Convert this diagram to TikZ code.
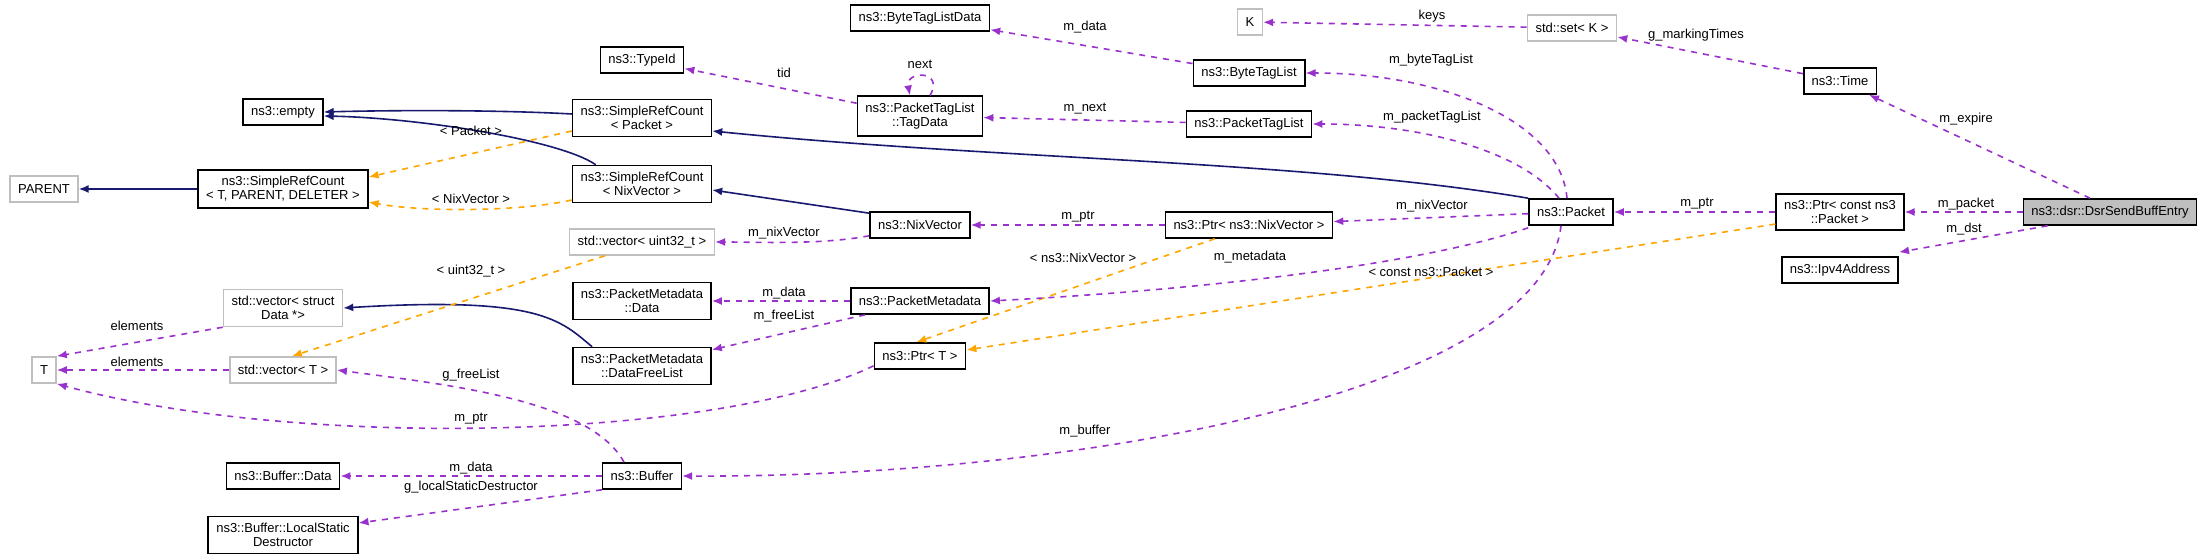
\documentclass[tikz,border=0pt]{standalone}
\usepackage{fontspec}
\setmainfont{Liberation Sans}
\usetikzlibrary{arrows.meta,calc}
\definecolor{navy}{RGB}{25,25,112}
\definecolor{usecol}{RGB}{153,50,204}
\definecolor{tplcol}{RGB}{255,165,0}
\tikzset{
    % Boxes
    cls/.style={draw=black,thick,fill=white,inner xsep=4pt,minimum height=13pt,align=center,font=\fontsize{6.5}{7}\selectfont},
    ext/.style={cls,draw=black!25},
    self/.style={cls,fill=black!25},
    %
    % Connectors
    tip/.tip={Latex[length=5pt,width=4pt]},
    inh/.style={-{tip},navy,thick},
    use/.style={-{tip},usecol,thick,dashed},
    tpl/.style={-{tip},tplcol,thick,dashed},
    lbl/.style={font=\fontsize{6.5}{7}\selectfont,inner sep=1pt}
}

\begin{document}
\begin{tikzpicture}[x=0.5pt,y=-0.5pt]
    \useasboundingbox (0,0) rectangle (2208,560);

    % column 1 and 2
    \node[ext] (parent) at (44,189) {PARENT};
    \node[ext] (tT) at (44,370) {T};
    \node[cls] (empty) at (283,112) {ns3::empty};
    \node[cls] (srcbase) at (283,189) {ns3::SimpleRefCount\\{}< T, PARENT, DELETER >};
    \node[ext] (vecstruct) at (283,308) {std::vector< struct\\Data *>};
    \node[ext] (vecT) at (283,370) {std::vector< T >};
    \node[cls] (bufdata) at (283,476) {ns3::Buffer::Data};
    \node[cls] (localstatic) at (283,535) {ns3::Buffer::LocalStatic\\Destructor};

    % column 3
    \node[cls] (typeid) at (642,60) {ns3::TypeId};
    \node[cls] (srcpacket) at (642,118) {ns3::SimpleRefCount\\{}< Packet >};
    \node[cls] (srcnix) at (642,184) {ns3::SimpleRefCount\\{}< NixVector >};
    \node[ext] (vecuint) at (642,242) {std::vector< uint32\_t >};
    \node[cls] (pmdata) at (642,301) {ns3::PacketMetadata\\::Data};
    \node[cls] (freelist) at (642,366) {ns3::PacketMetadata\\::DataFreeList};
    \node[cls] (buffer) at (642,476) {ns3::Buffer};

    % column 4
    \node[cls] (bytetaglistdata) at (920,18) {ns3::ByteTagListData};
    \node[cls] (tagdata) at (920,116) {ns3::PacketTagList\\::TagData};
    \node[cls] (nixvector) at (920,225) {ns3::NixVector};
    \node[cls] (pmeta) at (920,301) {ns3::PacketMetadata};
    \node[cls] (ptrT) at (920,356) {ns3::Ptr< T >};

    % column 5 to 8
    \node[ext] (kK) at (1250,22) {K};
    \node[cls] (bytetaglist) at (1249,73) {ns3::ByteTagList};
    \node[cls] (packettaglist) at (1249,124) {ns3::PacketTagList};
    \node[cls] (ptrnix) at (1249,225) {ns3::Ptr< ns3::NixVector >};
    \node[ext] (setK) at (1572,28) {std::set< K >};
    \node[cls] (packet) at (1571,212) {ns3::Packet};
    \node[cls] (time) at (1840,81) {ns3::Time};
    \node[cls] (ptrpacket) at (1840,212) {ns3::Ptr< const ns3\\::Packet >};
    \node[cls] (ipv4) at (1840,270) {ns3::Ipv4Address};
    \node[self] (entry) at (2110,212) {ns3::dsr::DsrSendBuffEntry};

    % inheritance
    \draw[inh] (srcpacket.west) ++(0,-4) .. controls (500,110) and (400,110) .. (empty.east);
    \draw[inh] ($(srcnix.north west)+(24,0)$) .. controls (560,140) and (420,118) .. ($(empty.east)+(0,4)$);
    \draw[inh] (packet.north west) .. controls (1300,160) and (1000,160) .. ($(srcpacket.east)+(0,13)$);
    \draw[inh] ($(nixvector.north west)+(0,2)$) -- ($(srcnix.east)+(0,6)$);
    \draw[inh] (srcbase) -- (parent);
    \draw[inh] ($(freelist.north west)+(20,0)$) .. controls (560,320) and (540,296) .. (vecstruct.east);

    % template instances
    \draw[tpl] ($(srcpacket.west)+(0,13)$) -- ($(srcbase.east)+(0,-12)$);
    \draw[tpl] ($(srcnix.west)+(0,16)$) .. controls (520,212) and (420,212) .. ($(srcbase.east)+(0,13)$);
    \draw[tpl] ($(vecuint.south west)+(36,0)$) -- ($(vecT.north east)+(-45,0)$);
    \draw[tpl] ($(ptrnix.south west)+(50,0)$) -- ($(ptrT.north east)+(-50,0)$);
    \draw[tpl] ($(ptrpacket.south west)+(0,-7)$) -- ($(ptrT.east)+(0,-6)$);
    \node[lbl] at (471,131) {< Packet >};
    \node[lbl] at (471,199) {< NixVector >};
    \node[lbl] at (471,271) {< uint32\_t >};
    \node[lbl] at (1083,258) {< ns3::NixVector >};
    \node[lbl] at (1431,272) {< const ns3::Packet >};

    % members
    \draw[use] (bytetaglist) -- (bytetaglistdata);
    \node[lbl] at (1085,27) {m\_data};
    \draw[use] (setK) -- (kK);
    \node[lbl] at (1432,16) {keys};
    \draw[use] (time) -- (setK);
    \node[lbl] at (1696,35) {g\_markingTimes};
    \draw[use] (tagdata) -- (typeid);
    \node[lbl] at (784,73) {tid};
    \draw[use] ($(tagdata.north)+(10,0)$) .. controls (945,70) and (905,70) .. ($(tagdata.north)+(-10,0)$);
    \node[lbl] at (920,64) {next};
    \draw[use] (packettaglist) -- (tagdata);
    \node[lbl] at (1085,109) {m\_next};
    \draw[use] ($(packet.north)+(-4,0)$) .. controls (1560,120) and (1440,73) .. (bytetaglist.east);
    \node[lbl] at (1431,60) {m\_byteTagList};
    \draw[use] ($(packet.north)+(-12,0)$) .. controls (1520,150) and (1420,124) .. (packettaglist.east);
    \node[lbl] at (1432,117) {m\_packetTagList};
    \draw[use] ($(entry.north)+(-20,0)$) -- ($(time.south east)+(-8,0)$);
    \node[lbl] at (1966,119) {m\_expire};
    \draw[use] (packet) -- (ptrnix);
    \node[lbl] at (1432,206) {m\_nixVector};
    \draw[use] (ptrnix) -- (nixvector);
    \node[lbl] at (1078,217) {m\_ptr};
    \draw[use] ($(nixvector.south west)+(0,-3)$) .. controls (820,245) and (760,242) .. (vecuint.east);
    \node[lbl] at (784,233) {m\_nixVector};
    \draw[use] (ptrpacket) -- (packet);
    \node[lbl] at (1697,204) {m\_ptr};
    \draw[use] (entry) -- (ptrpacket);
    \node[lbl] at (1966,204) {m\_packet};
    \draw[use] ($(entry.south west)+(25,0)$) -- ($(ipv4.north east)+(0,-4)$);
    \node[lbl] at (1964,229) {m\_dst};
    \draw[use] ($(packet.south west)+(0,2)$) .. controls (1420,265) and (1200,290) .. (pmeta.east);
    \node[lbl] at (1250,257) {m\_metadata};
    \draw[use] (pmeta) -- (pmdata);
    \node[lbl] at (784,293) {m\_data};
    \draw[use] ($(pmeta.south west)+(15,0)$) -- ($(freelist.north east)+(0,3)$);
    \node[lbl] at (784,316) {m\_freeList};
    \draw[use] ($(packet.south)+(-10,0)$) .. controls (1540,400) and (1050,478) .. (buffer.east);
    \node[lbl] at (1085,431) {m\_buffer};
    \draw[use] (buffer) -- (bufdata);
    \node[lbl] at (471,468) {m\_data};
    \draw[use] (buffer.south west) -- ($(localstatic.east)+(0,-12)$);
    \node[lbl] at (471,487) {g\_localStaticDestructor};
    \draw[use] ($(buffer.north)+(-18,0)$) .. controls (590,400) and (450,385) .. (vecT.east);
    \node[lbl] at (471,375) {g\_freeList};
    \draw[use] ($(ptrT.south west)+(0,-4)$) .. controls (720,440) and (300,450) .. (tT.south east);
    \node[lbl] at (471,419) {m\_ptr};
    \draw[use] (vecstruct.south west) -- (tT.north east);
    \node[lbl] at (137,326) {elements};
    \draw[use] (vecT) -- (tT);
    \node[lbl] at (137,362) {elements};
\end{tikzpicture}
\end{document}
